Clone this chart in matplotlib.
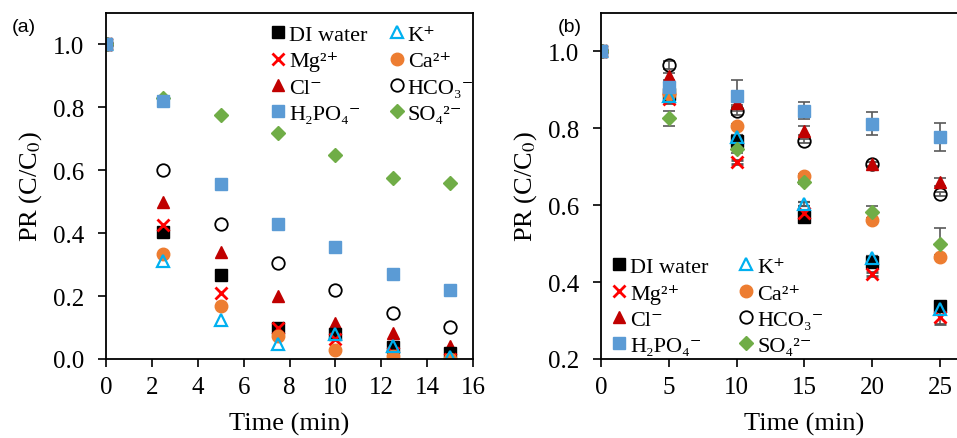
import matplotlib
matplotlib.use("Agg")
import matplotlib.pyplot as plt
import numpy as np

plt.rcParams['font.family'] = ['Liberation Serif', 'DejaVu Serif']
plt.rcParams['mathtext.fontset'] = 'stix'

# series labels, in legend order (row by row)
labels = ['DI water', 'K⁺', 'Mg²⁺', 'Ca²⁺', 'Cl⁻', 'HCO₃⁻', 'H₂PO₄⁻', 'SO₄²⁻']

# (a) time points and PR values
time_a = [0, 2.5, 5, 7.5, 10, 12.5, 15]
pr_a = {
    'DI water': [1.0, 0.405, 0.268, 0.10, 0.080, 0.037, 0.020],
    'K⁺':       [1.0, 0.310, 0.125, 0.048, 0.080, 0.040, 0.005],
    'Mg²⁺':     [1.0, 0.425, 0.210, 0.100, 0.065, 0.020, 0.000],
    'Ca²⁺':     [1.0, 0.334, 0.170, 0.073, 0.027, 0.010, 0.000],
    'Cl⁻':      [1.0, 0.500, 0.340, 0.200, 0.115, 0.083, 0.040],
    'HCO₃⁻':    [1.0, 0.600, 0.430, 0.305, 0.220, 0.147, 0.103],
    'H₂PO₄⁻':   [1.0, 0.820, 0.555, 0.430, 0.356, 0.270, 0.220],
    'SO₄²⁻':    [1.0, 0.830, 0.775, 0.720, 0.650, 0.577, 0.560],
}

# (b) time points, PR values and standard deviations
time_b = [0, 5, 10, 15, 20, 25]
pr_b = {
    'DI water': [1.0, 0.890, 0.768, 0.570, 0.452, 0.338],
    'K⁺':       [1.0, 0.885, 0.777, 0.604, 0.462, 0.330],
    'Mg²⁺':     [1.0, 0.876, 0.713, 0.580, 0.420, 0.310],
    'Ca²⁺':     [1.0, 0.890, 0.807, 0.677, 0.562, 0.465],
    'Cl⁻':      [1.0, 0.935, 0.865, 0.794, 0.707, 0.660],
    'HCO₃⁻':    [1.0, 0.964, 0.846, 0.768, 0.707, 0.630],
    'H₂PO₄⁻':   [1.0, 0.907, 0.885, 0.846, 0.812, 0.777],
    'SO₄²⁻':    [1.0, 0.826, 0.747, 0.660, 0.582, 0.500],
}
err_b = {
    'DI water': [0, 0.005, 0.005, 0.005, 0.005, 0.005],
    'K⁺':       [0, 0.005, 0.005, 0.005, 0.005, 0.005],
    'Mg²⁺':     [0, 0.010, 0.005, 0.005, 0.005, 0.020],
    'Ca²⁺':     [0, 0.005, 0.005, 0.005, 0.005, 0.005],
    'Cl⁻':      [0, 0.010, 0.005, 0.012, 0.005, 0.010],
    'HCO₃⁻':    [0, 0.010, 0.010, 0.005, 0.005, 0.005],
    'H₂PO₄⁻':   [0, 0.010, 0.040, 0.022, 0.030, 0.037],
    'SO₄²⁻':    [0, 0.020, 0.010, 0.005, 0.015, 0.040],
}

styles = {
    'DI water': dict(marker='s', color='black', mfc='black'),
    'K⁺':       dict(marker='^', color='#00B0F0', mfc='none', mew=1.6),
    'Mg²⁺':     dict(marker='x', color='#FF0000', mew=2.0),
    'Ca²⁺':     dict(marker='o', color='#ED7D31', mfc='#ED7D31'),
    'Cl⁻':      dict(marker='^', color='#C00000', mfc='#C00000'),
    'HCO₃⁻':    dict(marker='o', color='black', mfc='none', mew=1.3),
    'H₂PO₄⁻':   dict(marker='s', color='#5B9BD5', mfc='#5B9BD5'),
    'SO₄²⁻':    dict(marker='D', color='#70AD47', mfc='#70AD47', ms=7),
}

fig = plt.figure(figsize=(9.57, 4.39), dpi=100)
ax_a = fig.add_axes([0.1108, 0.18, 0.3835, 0.788])
ax_b = fig.add_axes([0.628, 0.18, 0.425, 0.788])

# draw order puts H2PO4 / SO4 on top of the rest
draw_order = ['HCO₃⁻', 'Cl⁻', 'DI water', 'Mg²⁺', 'Ca²⁺', 'K⁺', 'SO₄²⁻', 'H₂PO₄⁻']

handles = {}
for name in draw_order:
    st = dict(ms=9, mec=styles[name]['color'])
    st.update(styles[name])
    h, = ax_a.plot(time_a, pr_a[name], ls='none', **st)
    handles[name] = h
    ax_b.errorbar(time_b, pr_b[name], yerr=err_b[name], ls='none',
                  ecolor='#595959', elinewidth=1.2, capsize=4, capthick=1.2,
                  **st)

# matplotlib fills legend columns first, so reorder to read row by row
col_order = labels[0::2] + labels[1::2]
for ax, loc, anchor, colsp in [(ax_a, 'upper right', (1.045, 1.012), 1.0),
                               (ax_b, 'lower left', (-0.01, -0.037), 1.4)]:
    ax.legend([handles[n] for n in col_order], col_order, ncol=2, loc=loc,
              bbox_to_anchor=anchor, frameon=False, fontsize=16,
              handlelength=0.6, handletextpad=0.2, columnspacing=colsp,
              labelspacing=0.26, borderpad=0.2)

ax_a.set_xlim(0, 16)
ax_a.set_ylim(0, 1.1)
ax_a.set_xticks(np.arange(0, 17, 2))
ax_a.set_yticks(np.arange(0, 1.01, 0.2))

# the right-hand axis runs on past the figure edge
ax_b.set_xlim(0, 30)
ax_b.set_ylim(0.2, 1.1)
ax_b.set_xticks(np.arange(0, 26, 5))
ax_b.set_yticks(np.arange(0.2, 1.01, 0.2))

for ax in (ax_a, ax_b):
    ax.yaxis.set_major_formatter(matplotlib.ticker.FormatStrFormatter('%.1f'))
    ax.tick_params(direction='out', length=6, width=1.2, labelsize=18)
    ax.tick_params(axis='x', pad=6)
    ax.tick_params(axis='y', pad=10)
    for sp in ax.spines.values():
        sp.set_linewidth(1.3)
    ax.set_xlabel('Time (min)', fontsize=19, labelpad=10)
    ax.set_ylabel('PR (C/C$_0$)', fontsize=19, labelpad=6)

fig.text(0.012, 0.937, '(a)', family='Liberation Sans', fontsize=14, va='center')
fig.text(0.583, 0.937, '(b)', family='Liberation Sans', fontsize=14, va='center')

fig.savefig('out.png', dpi=100)
